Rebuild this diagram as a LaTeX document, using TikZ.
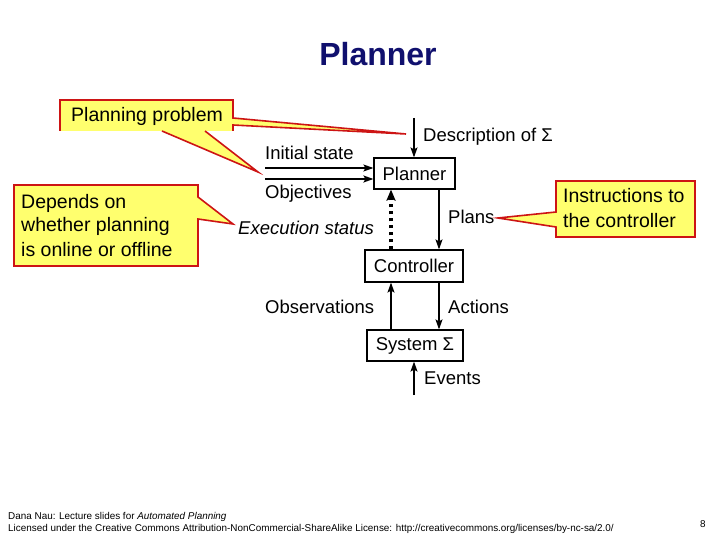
\documentclass[tikz,border=0pt]{standalone}
\usepackage{fontspec}
\setmainfont{Liberation Sans}
\usetikzlibrary{arrows.meta,calc}
\definecolor{navy}{RGB}{16,16,110}
\definecolor{cyel}{RGB}{255,255,110}
\definecolor{cred}{RGB}{205,20,20}
\begin{document}
\begin{tikzpicture}[x=1pt,y=-1pt,
  txt/.style={anchor=base west, inner sep=0pt, font=\fontsize{18.5}{22}\selectfont},
  ctxt/.style={anchor=base west, inner sep=0pt, font=\fontsize{19.5}{22}\selectfont},
  boxnode/.style={draw, line width=1.2pt, inner sep=0pt, font=\fontsize{18.5}{22}\selectfont},
  arr/.style={-{Stealth[length=10pt,width=7pt,inset=2pt]}, line width=1.1pt},
  callfill/.style={fill=cyel},
  callline/.style={draw=cred, line width=1.6pt, line join=miter},
  foot/.style={anchor=base west, inner sep=0pt, font=\fontsize{9.9}{11}\selectfont}]
\useasboundingbox (0,0) rectangle (720,540);

% title
\node[anchor=base, inner sep=0pt, text=navy, font=\fontsize{32}{36}\selectfont\bfseries] (title) at (378,66) {Planner};

% callout: Planning problem
\fill[cyel] (60,100) rectangle (233,131);
\fill[cyel] (233,118) -- (406,134) -- (233,125) -- cycle;
\fill[cyel] (162,131) -- (258,172) -- (205,131) -- cycle;
\draw[callline] (60,131) -- (60,100) -- (233,100) -- (233,118) -- (406,134) -- (233,125) -- (233,131);
\draw[callline] (162,131) -- (258,172) -- (205,131);
\node[ctxt] (pp) at (71,122) {Planning problem};

% callout: Depends on
\filldraw[callfill, callline] (14,185) -- (198,185) -- (198,197) -- (233,224) -- (198,219) -- (198,266) -- (14,266) -- cycle;
\node[ctxt] (dep1) at (21,208) {Depends on};
\node[ctxt] (dep2) at (21,232) {whether planning};
\node[ctxt] (dep3) at (21,256) {is online or offline};

% callout: Instructions
\filldraw[callfill, callline] (556,181) -- (695,181) -- (695,237) -- (556,237) -- (556,227) -- (498,218) -- (556,212) -- cycle;
\node[ctxt] (ins1) at (563,203) {Instructions to};
\node[ctxt] (ins2) at (563,228) {the controller};

% boxes
\node[boxnode, minimum width=81pt, minimum height=31pt] (planner) at (414.5,173.5) {Planner};
\node[boxnode, minimum width=98pt, minimum height=32pt] (controller) at (414,266) {Controller};
\node[boxnode, minimum width=96pt, minimum height=31pt] (system) at (415,345.5) {System Σ};

% free ends
\coordinate (desctop) at (414,118);
\coordinate (initL) at (265,168);
\coordinate (objL) at (265,179);
\coordinate (evbot) at (414,395);
\coordinate (xl) at (391,0);
\coordinate (xr) at (439,0);

% connectors
\draw[arr] (desctop) -- (planner.north -| desctop);
\draw[arr] (initL) -- (planner.west |- initL);
\draw[arr, line width=1.5pt] (objL) -- (planner.west |- objL);
\draw[line width=3.2pt, dash pattern=on 3pt off 4pt, -{Stealth[length=11pt,width=9pt,inset=2pt]}] (controller.north -| xl) -- (planner.south -| xl);
\draw[arr] (planner.south -| xr) -- (controller.north -| xr);
\draw[arr] (system.north -| xl) -- (controller.south -| xl);
\draw[arr] (controller.south -| xr) -- (system.north -| xr);
\draw[arr] (evbot) -- (system.south -| evbot);

% labels
\node[txt] (ldesc) at (423,142) {Description of Σ};
\node[txt] (linit) at (265,160) {Initial state};
\node[txt] (lobj) at (265,199) {Objectives};
\node[txt] (lplans) at (448,224) {Plans};
\node[txt, font=\fontsize{18.5}{22}\selectfont\itshape] (lexec) at (238,235) {Execution status};
\node[txt] (lobs) at (265,313) {Observations};
\node[txt] (lact) at (448,313) {Actions};
\node[txt] (lev) at (424,384) {Events};

% footer
\node[foot] (f1) at (8,519) {Dana Nau: Lecture slides for \textit{Automated Planning}};
\node[foot] (f2) at (8,531) {Licensed under the Creative Commons Attribution-NonCommercial-ShareAlike License: http://creativecommons.org/licenses/by-nc-sa/2.0/};
\node[foot] (pg) at (700,527) {8};
\end{tikzpicture}
\end{document}
